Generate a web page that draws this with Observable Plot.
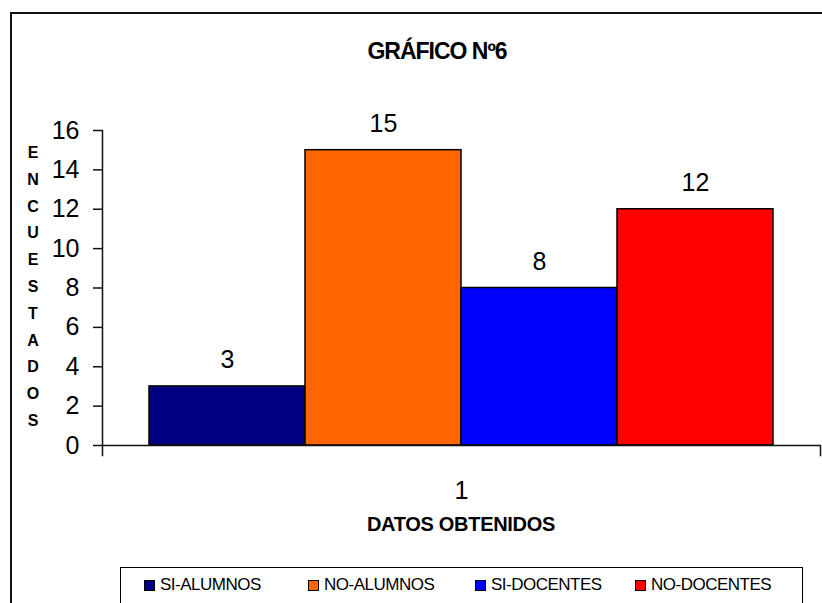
<!DOCTYPE html>
<html>
<head>
<meta charset="utf-8">
<script src="https://cdn.jsdelivr.net/npm/d3@7"></script>
<script src="https://cdn.jsdelivr.net/npm/@observablehq/plot@0.6"></script>
<style>
  html, body { margin: 0; padding: 0; background: #fff; }
  body { width: 822px; height: 603px; overflow: hidden; position: relative; font-family: "Liberation Sans", Arial, sans-serif; }
  #frame { position: absolute; left: 10px; top: 12px; width: 840px; height: 640px; border-left: 2px solid #111; border-top: 2px solid #111; }
  #title { position: absolute; left: 0; width: 874px; top: 38px; text-align: center; font-weight: bold; font-size: 23px; letter-spacing: -1px; }
  #ylab { position: absolute; left: 23px; top: 140px; width: 20px; text-align: center; font-weight: bold; font-size: 16px; line-height: 26.8px; }
  #xlab { position: absolute; left: 102px; width: 718px; top: 513px; text-align: center; font-weight: bold; font-size: 20px; letter-spacing: -0.3px; }
  #legend { position: absolute; left: 120px; top: 567px; width: 683px; height: 60px; border: 1px solid #000; box-sizing: border-box; }
  .item { position: absolute; top: 7px; display: flex; align-items: center; font-size: 17px; letter-spacing: -0.5px; }
  .sw { width: 9px; height: 9px; border: 1px solid #000; margin-right: 5px; }
  #chart { position: absolute; left: 0; top: 0; }
</style>
</head>
<body>
<div id="frame"></div>
<div id="title">GRÁFICO Nº6</div>
<div id="ylab"></div>
<div id="xlab">DATOS OBTENIDOS</div>
<div id="legend"></div>
<div id="chart"></div>
<script>
const series = ["SI-ALUMNOS", "NO-ALUMNOS", "SI-DOCENTES", "NO-DOCENTES"];
const values = [3, 15, 8, 12];
const colors = ["#000080", "#FF6600", "#0000FF", "#FF0000"];
const category = "1";
const yTicks = [0, 2, 4, 6, 8, 10, 12, 14, 16];
const yLabel = "ENCUESTADOS";
const xLabel = "DATOS OBTENIDOS";
const legendX = [144, 308, 475, 635];

const data = series.map((s, i) => ({serie: s, value: values[i], cat: category}));

document.getElementById("ylab").innerHTML = yLabel.split("").join("<br>");
document.getElementById("xlab").textContent = xLabel;

const legend = document.getElementById("legend");
series.forEach((s, i) => {
  const it = document.createElement("div");
  it.className = "item";
  it.style.left = (legendX[i] - 121) + "px";
  it.innerHTML = `<span class="sw" style="background:${colors[i]}"></span><span>${s}</span>`;
  legend.appendChild(it);
});

const chart = Plot.plot({
  width: 822,
  height: 603,
  marginLeft: 102,
  marginRight: 2,
  marginTop: 130,
  marginBottom: 158,
  style: {fontFamily: "Liberation Sans, Arial, sans-serif", background: "transparent", overflow: "visible"},
  fx: {domain: [category], padding: 0},
  x: {domain: series, paddingInner: 0, paddingOuter: 0.294, axis: null},
  y: {domain: [0, 16], axis: null},
  color: {domain: series, range: colors},
  marks: [
    Plot.barY(data, {fx: "cat", x: "serie", y: "value", fill: "serie", stroke: "#000", strokeWidth: 1.5}),
    Plot.text(data, {fx: "cat", x: "serie", y: "value", text: d => String(d.value), dy: -26, fontSize: 25, fill: "#000"}),
    Plot.ruleY([0], {stroke: "#111", strokeWidth: 1.5}),
    Plot.frame({anchor: "left", insetBottom: -10, stroke: "#111", strokeWidth: 1.5}),
    Plot.frame({anchor: "right", insetTop: 315, insetBottom: -10, stroke: "#111", strokeWidth: 1.5}),
    Plot.axisY({ticks: yTicks, tickSize: 9, tickPadding: 14, fontSize: 25, label: null, stroke: "#111", strokeWidth: 1.5, tickFormat: d => String(d)}),
    Plot.axisFx({anchor: "bottom", tickSize: 0, tickPadding: 36, fontSize: 25, label: null})
  ]
});
document.getElementById("chart").appendChild(chart);
</script>
</body>
</html>
